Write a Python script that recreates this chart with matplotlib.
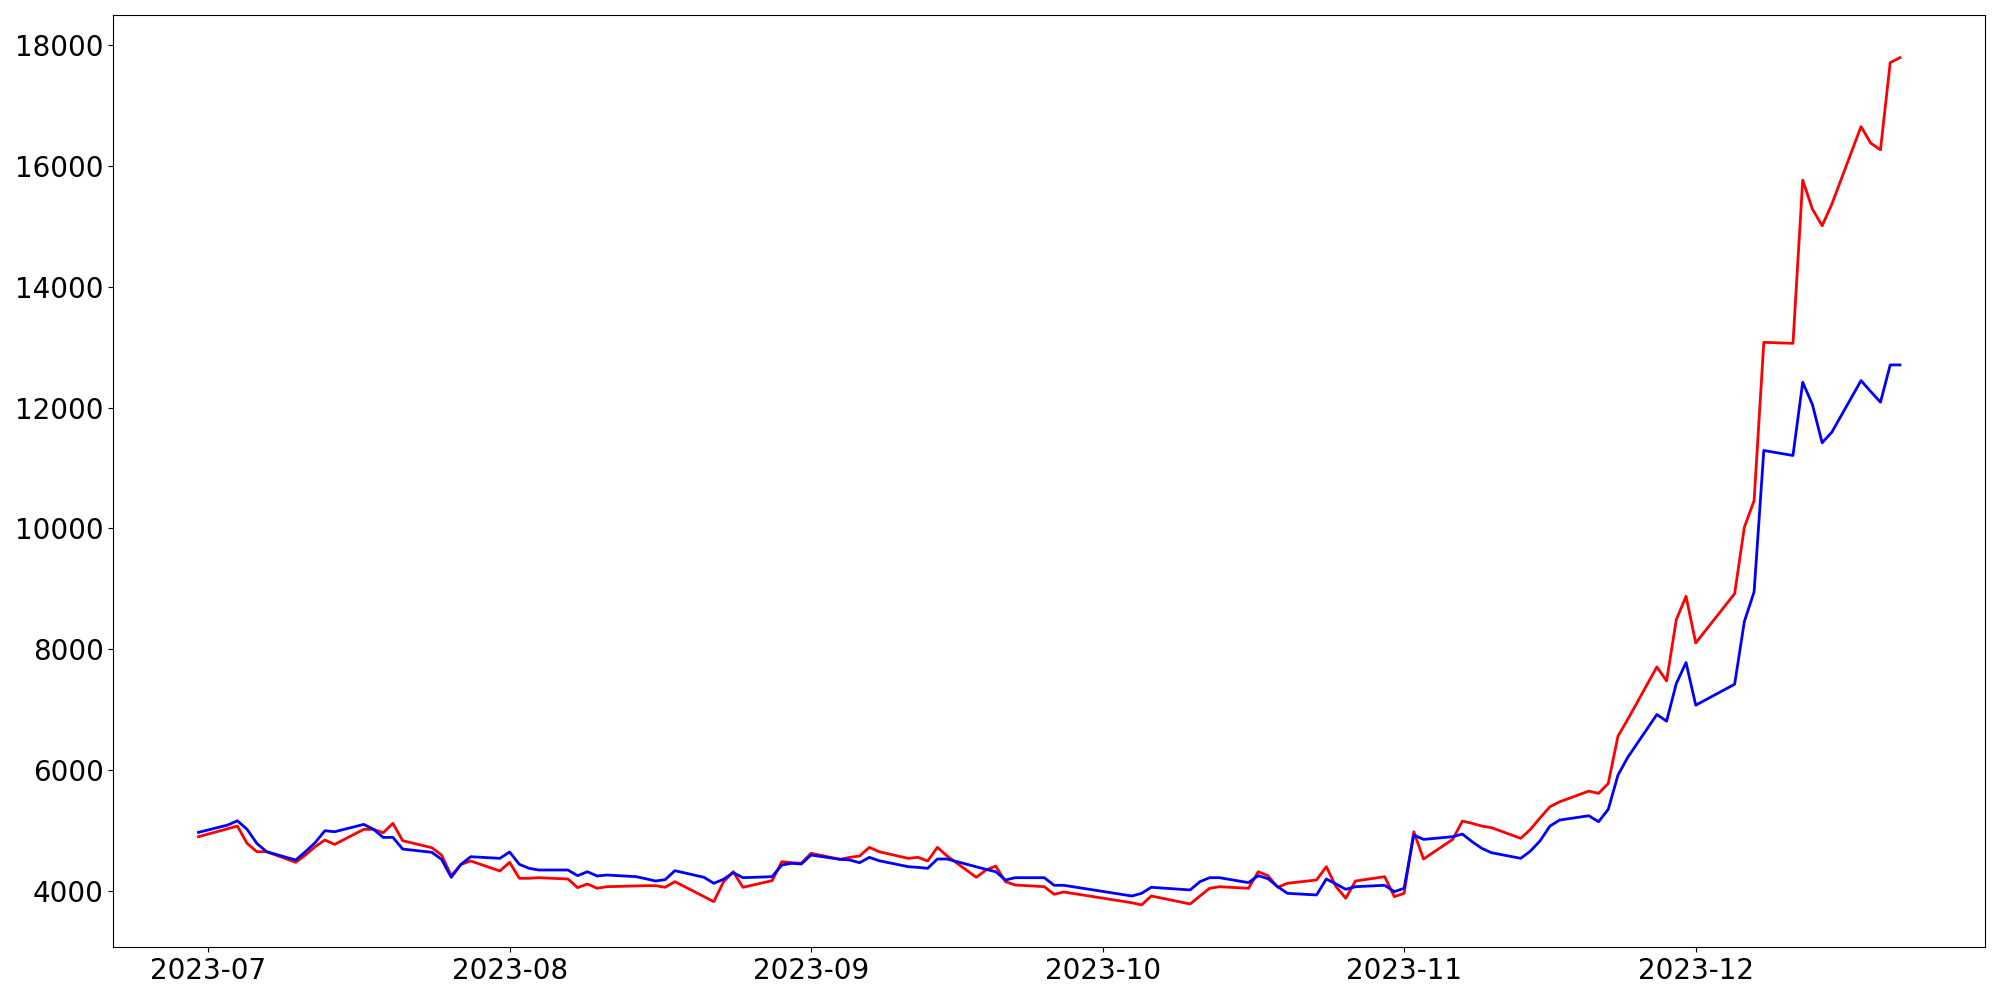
import matplotlib
matplotlib.use('Agg')
import matplotlib.pyplot as plt
import matplotlib.dates as mdates
import pandas as pd

dates = [
    '2023-06-30', '2023-07-03', '2023-07-04', '2023-07-05', '2023-07-06', '2023-07-07',
    '2023-07-10', '2023-07-11', '2023-07-12', '2023-07-13', '2023-07-14',
    '2023-07-17', '2023-07-18', '2023-07-19', '2023-07-20', '2023-07-21',
    '2023-07-24', '2023-07-25', '2023-07-26', '2023-07-27', '2023-07-28', '2023-07-31',
    '2023-08-01', '2023-08-02', '2023-08-03', '2023-08-04',
    '2023-08-07', '2023-08-08', '2023-08-09', '2023-08-10', '2023-08-11',
    '2023-08-14', '2023-08-15', '2023-08-16', '2023-08-17', '2023-08-18',
    '2023-08-21', '2023-08-22', '2023-08-23', '2023-08-24', '2023-08-25',
    '2023-08-28', '2023-08-29', '2023-08-30', '2023-08-31',
    '2023-09-01', '2023-09-04', '2023-09-05', '2023-09-06', '2023-09-07', '2023-09-08',
    '2023-09-11', '2023-09-12', '2023-09-13', '2023-09-14', '2023-09-15',
    '2023-09-18', '2023-09-19', '2023-09-20', '2023-09-21', '2023-09-22',
    '2023-09-25', '2023-09-26', '2023-09-27',
    '2023-10-04', '2023-10-05', '2023-10-06',
    '2023-10-10', '2023-10-11', '2023-10-12', '2023-10-13',
    '2023-10-16', '2023-10-17', '2023-10-18', '2023-10-19', '2023-10-20',
    '2023-10-23', '2023-10-24', '2023-10-25', '2023-10-26', '2023-10-27',
    '2023-10-30', '2023-10-31',
    '2023-11-01', '2023-11-02', '2023-11-03',
    '2023-11-06', '2023-11-07', '2023-11-08', '2023-11-09', '2023-11-10',
    '2023-11-13', '2023-11-14', '2023-11-15', '2023-11-16', '2023-11-17',
    '2023-11-20', '2023-11-21', '2023-11-22', '2023-11-23', '2023-11-24',
    '2023-11-27', '2023-11-28', '2023-11-29', '2023-11-30',
    '2023-12-01', '2023-12-05', '2023-12-06', '2023-12-07', '2023-12-08',
    '2023-12-11', '2023-12-12', '2023-12-13', '2023-12-14', '2023-12-15',
    '2023-12-18', '2023-12-19', '2023-12-20', '2023-12-21', '2023-12-22',
]

red = [
    4898, 5030, 5074, 4788, 4650, 4650, 4474, 4595, 4733, 4843, 4771,
    5020, 5020, 4964, 5119, 4832, 4716, 4595, 4253, 4441, 4496, 4331,
    4474, 4210, 4210, 4220, 4198, 4055, 4116, 4045, 4071, 4083, 4088, 4088,
    4061, 4154, 3906, 3823, 4150, 4319, 4061, 4171, 4485, 4468, 4458,
    4623, 4524, 4557, 4579, 4722, 4650, 4540, 4557, 4496, 4722, 4579,
    4226, 4347, 4413, 4154, 4099, 4071, 3945, 3983,
    3805, 3769, 3917, 3785, 3917, 4044, 4071, 4044, 4319, 4253, 4061, 4127,
    4182, 4402, 4071, 3879, 4165, 4237, 3906,
    3961, 4980, 4529, 4854, 5157, 5119, 5074, 5047, 4871, 5020, 5212, 5394,
    5476, 5653, 5615, 5780, 6562, 6838, 7708, 7476, 8491, 8876,
    8105, 8921, 10020, 10460, 13080, 13063, 15764, 15285, 15009, 15368,
    16651, 16376, 16265, 17709, 17791,
]

blue = [
    4970, 5091, 5162, 5020, 4788, 4650, 4512, 4650, 4800, 4997, 4980,
    5102, 5020, 4887, 4887, 4694, 4640, 4524, 4226, 4441, 4567, 4540,
    4645, 4441, 4375, 4347, 4347, 4253, 4319, 4248, 4264, 4237, 4203, 4165,
    4187, 4336, 4226, 4127, 4193, 4303, 4220, 4237, 4430, 4458, 4446,
    4595, 4524, 4512, 4468, 4557, 4501, 4402, 4391, 4375, 4529, 4529,
    4400, 4358, 4319, 4182, 4220, 4220, 4094, 4094,
    3917, 3961, 4061, 4017, 4154, 4220, 4220, 4138, 4253, 4204, 4071, 3961,
    3934, 4198, 4116, 4028, 4071, 4094, 3989,
    4044, 4926, 4854, 4898, 4942, 4815, 4705, 4633, 4540, 4661, 4832, 5074,
    5174, 5245, 5146, 5350, 5917, 6210, 6921, 6810, 7433, 7780,
    7075, 7422, 8460, 8950, 11290, 11207, 12419, 12050, 11417, 11594,
    12447, 12265, 12089, 12706, 12706,
]

x = pd.to_datetime(dates)

fig, ax = plt.subplots(figsize=(20, 10), dpi=100)
ax.plot(x, red, color='red', linewidth=2)
ax.plot(x, blue, color='blue', linewidth=2)
ax.xaxis.set_major_locator(mdates.MonthLocator())
ax.xaxis.set_major_formatter(mdates.DateFormatter('%Y-%m'))
ax.tick_params(labelsize=20)
plt.subplots_adjust(left=0.0567, right=0.9925, top=0.9847, bottom=0.0527)
plt.savefig('out.png')
